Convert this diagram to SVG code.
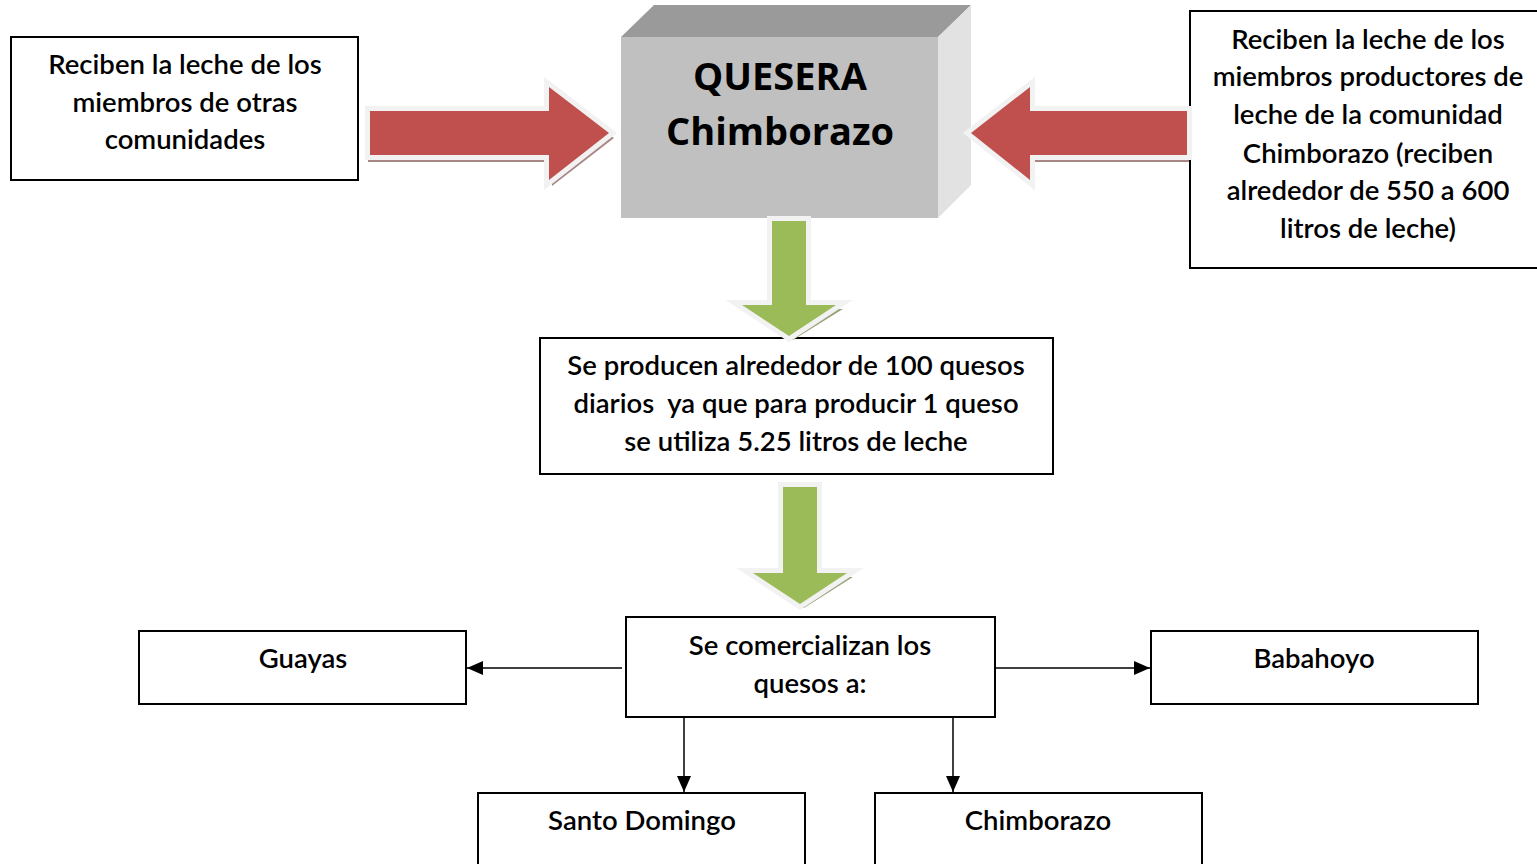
<svg xmlns="http://www.w3.org/2000/svg" width="1537" height="864" viewBox="0 0 1537 864">
<style>
.box{fill:#fff;stroke:#000;stroke-width:2}
.t{font-family:Lato,"Noto Sans",sans-serif;font-size:27.5px;font-weight:600;fill:#000;text-anchor:middle;white-space:pre}
.h{font-family:"Open Sans","Liberation Sans",sans-serif;font-weight:bold;font-size:38px;fill:#000;text-anchor:middle}
.red{fill:#c0504d;stroke:#f2f2f2;stroke-width:10;paint-order:stroke fill;stroke-linejoin:miter}
.redsh{fill:#a98686}
.grn{fill:#9bbb59;stroke:#f2f2f2;stroke-width:10;paint-order:stroke fill;stroke-linejoin:miter}
.grnsh{fill:#98a47c}
.ln{stroke:#000;stroke-width:1.5;fill:none}
</style>
<defs>
<marker id="ah2" viewBox="0 0 16 14" refX="16" refY="7" markerWidth="16" markerHeight="14" markerUnits="userSpaceOnUse" orient="auto">
<path d="M0,0 L16,7 L0,14 Z" fill="#000"/>
</marker>
</defs>

<g id="left-box">
<rect class="box" x="11" y="37" width="347" height="143"/>
<text class="t" x="185" y="74">Reciben la leche de los</text>
<text class="t" x="185" y="112">miembros de otras</text>
<text class="t" x="185" y="149">comunidades</text>
</g>

<g id="quesera">
<polygon points="621,37 654,5 971,5 938,37" fill="#9a9a9a"/>
<polygon points="938,37 971,5 971,185 938,218" fill="#e2e2e2"/>
<rect x="621" y="37" width="317" height="181" fill="#c0c0c0"/>
<text class="h" x="780" y="90">QUESERA</text>
<text class="h" x="780" y="145">Chimborazo</text>
</g>

<g id="right-box">
<rect class="box" x="1190" y="11" width="352" height="257"/>
<text class="t" x="1368" y="49">Reciben la leche de los</text>
<text class="t" x="1368" y="86">miembros productores de</text>
<text class="t" x="1368" y="124">leche de la comunidad</text>
<text class="t" x="1368" y="163">Chimborazo (reciben</text>
<text class="t" x="1368" y="200">alrededor de 550 a 600</text>
<text class="t" x="1368" y="238">litros de leche)</text>
</g>

<g id="middle-box">
<rect class="box" x="540" y="338" width="513" height="136"/>
<text class="t" x="796" y="375">Se producen alrededor de 100 quesos</text>
<text class="t" x="796" y="413" xml:space="preserve">diarios  ya que para producir 1 queso</text>
<text class="t" x="796" y="451">se utiliza 5.25 litros de leche</text>
</g>

<g id="comercializan">
<rect class="box" x="626" y="617" width="369" height="100"/>
<text class="t" x="810" y="655">Se comercializan los</text>
<text class="t" x="810" y="693">quesos a:</text>
</g>

<g id="guayas">
<rect class="box" x="139" y="631" width="327" height="73"/>
<text class="t" x="303" y="668">Guayas</text>
</g>

<g id="babahoyo">
<rect class="box" x="1151" y="631" width="327" height="73"/>
<text class="t" x="1314" y="668">Babahoyo</text>
</g>

<g id="santo-domingo">
<rect class="box" x="478" y="793" width="327" height="90"/>
<text class="t" x="642" y="830">Santo Domingo</text>
</g>

<g id="chimborazo">
<rect class="box" x="875" y="793" width="327" height="90"/>
<text class="t" x="1038" y="830">Chimborazo</text>
</g>

<g id="connectors">
<polygon class="redsh" points="368,114 552,114 552,93 614,138 552,186 552,162 368,162"/>
<polygon class="red" points="370,111 549,111 549,87 609,133 549,180 549,155 370,155"/>
<polygon class="redsh" points="1189,115 1034,115 1034,93 973,138 1034,186 1034,162 1189,162"/>
<polygon class="red" points="1187,111 1030,111 1030,87 971,133 1030,180 1030,155 1187,155"/>
<polygon class="grnsh" points="775,224 811,224 811,309 843,309 793,340 745,309 775,309"/>
<polygon class="grn" points="772,221 806,221 806,305 836,305 789,336 742,305 772,305"/>
<polygon class="grnsh" points="786,490 822,490 822,577 853,577 804,608 756,577 786,577"/>
<polygon class="grn" points="783,487 817,487 817,573 847,573 800,604 753,573 783,573"/>
<line class="ln" x1="622" y1="668" x2="467" y2="668" marker-end="url(#ah2)"/>
<line class="ln" x1="996" y1="668" x2="1150" y2="668" marker-end="url(#ah2)"/>
<line class="ln" x1="684" y1="718" x2="684" y2="792" marker-end="url(#ah2)"/>
<line class="ln" x1="953" y1="718" x2="953" y2="792" marker-end="url(#ah2)"/>
</g>
</svg>
